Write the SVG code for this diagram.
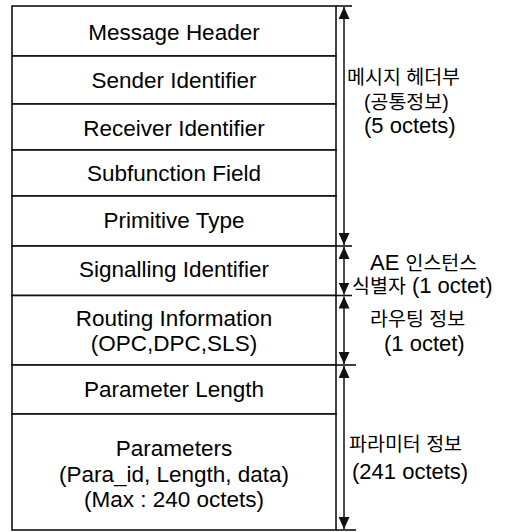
<svg xmlns="http://www.w3.org/2000/svg" width="512" height="532" viewBox="0 0 512 532">
  <style>
    .cell { fill: #fff; stroke: #111; stroke-width: 1.6; }
    .rule { stroke: #111; stroke-width: 1.6; fill: none; }
    .lbl { font-family: 'Liberation Sans', Arial, 'Noto Sans CJK KR', sans-serif; font-size: 22.5px; fill: #000; text-anchor: middle; }
    .note { font-family: 'Liberation Sans', Arial, 'Noto Sans CJK KR', sans-serif; font-size: 22px; fill: #000; }
    .ko { font-size: 19.5px; }
    .dim { stroke: #111; stroke-width: 1.5; fill: none; marker-start: url(#tip); marker-end: url(#tip); }
  </style>
  <defs>
    <marker id="tip" viewBox="0 0 12 11" refX="12" refY="5.5" markerWidth="12" markerHeight="11" markerUnits="userSpaceOnUse" orient="auto-start-reverse">
      <path d="M0,0 L12,5.5 L0,11 z" fill="#111"/>
    </marker>
  </defs>
  <rect width="512" height="532" fill="#fff"/>

  <!-- message fields, top to bottom -->
  <g id="message-header">
    <rect class="cell" x="12" y="6" width="324" height="50"/>
    <text class="lbl" x="174" y="40">Message Header</text>
  </g>
  <g id="sender-identifier">
    <rect class="cell" x="12" y="56" width="324" height="48"/>
    <text class="lbl" x="174" y="88">Sender Identifier</text>
  </g>
  <g id="receiver-identifier">
    <rect class="cell" x="12" y="104" width="324" height="46"/>
    <text class="lbl" x="174" y="136">Receiver Identifier</text>
  </g>
  <g id="subfunction-field">
    <rect class="cell" x="12" y="150" width="324" height="46"/>
    <text class="lbl" x="174" y="181">Subfunction Field</text>
  </g>
  <g id="primitive-type">
    <rect class="cell" x="12" y="196" width="324" height="50"/>
    <text class="lbl" x="174" y="228">Primitive Type</text>
  </g>
  <g id="signalling-identifier">
    <rect class="cell" x="12" y="246" width="324" height="49.5"/>
    <text class="lbl" x="174" y="277">Signalling Identifier</text>
  </g>
  <g id="routing-information">
    <rect class="cell" x="12" y="295.5" width="324" height="69.5"/>
    <text class="lbl" x="174" y="326">Routing Information</text>
    <text class="lbl" x="174" y="351">(OPC,DPC,SLS)</text>
  </g>
  <g id="parameter-length">
    <rect class="cell" x="12" y="365" width="324" height="49"/>
    <text class="lbl" x="174" y="397">Parameter Length</text>
  </g>
  <g id="parameters">
    <rect class="cell" x="12" y="414" width="324" height="116"/>
    <text class="lbl" x="174" y="456">Parameters</text>
    <text class="lbl" x="174" y="482">(Para_id, Length, data)</text>
    <text class="lbl" x="174" y="507">(Max : 240 octets)</text>
  </g>

  <!-- dimension arrows with their extension lines -->
  <g id="connectors">
    <line class="rule" x1="336" y1="6" x2="352" y2="6"/>
    <line class="rule" x1="336" y1="246" x2="352" y2="246"/>
    <line class="rule" x1="336" y1="295.5" x2="352" y2="295.5"/>
    <line class="rule" x1="336" y1="365" x2="356" y2="365"/>
    <line class="rule" x1="336" y1="530" x2="356" y2="530"/>
    <line class="dim" x1="344" y1="7" x2="344" y2="245"/>
    <line class="dim" x1="344" y1="247" x2="344" y2="294.5"/>
    <line class="dim" x1="344" y1="296.5" x2="344" y2="364"/>
    <line class="dim" x1="344" y1="366" x2="344" y2="529"/>
  </g>

  <!-- span annotations -->
  <g id="header-span">
    <text class="note ko" x="347" y="84">메시지 헤더부</text>
    <text class="note ko" x="364" y="109">(공통정보)</text>
    <text class="note" x="364" y="133">(5 octets)</text>
  </g>
  <g id="instance-span">
    <text class="note" x="370" y="270">AE <tspan class="ko">인스턴스</tspan></text>
    <text class="note" x="352" y="293"><tspan class="ko">식별자</tspan> (1 octet)</text>
  </g>
  <g id="routing-span">
    <text class="note ko" x="370" y="326">라우팅 정보</text>
    <text class="note" x="384" y="351">(1 octet)</text>
  </g>
  <g id="parameter-span">
    <text class="note ko" x="349" y="451">파라미터 정보</text>
    <text class="note" x="352" y="479">(241 octets)</text>
  </g>
</svg>
